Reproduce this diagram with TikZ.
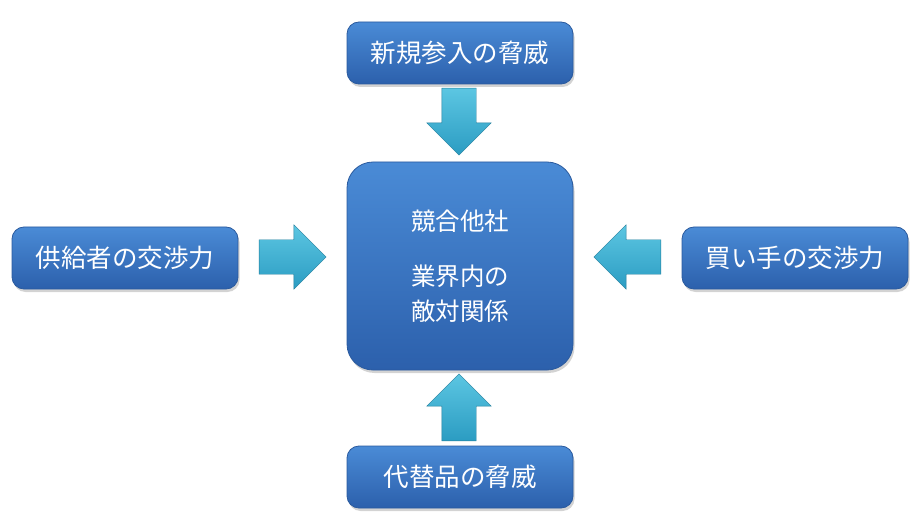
\documentclass[tikz,border=0pt]{standalone}
\usepackage{fontspec}
\setmainfont{Noto Sans CJK JP}
\usetikzlibrary{shapes.arrows, shadows}
\definecolor{boxtop}{HTML}{4A8BD6}
\definecolor{boxbot}{HTML}{2C60AC}
\definecolor{boxline}{HTML}{2A5A9E}
\definecolor{arrtop}{HTML}{5CC6E2}
\definecolor{arrbot}{HTML}{2B9CC2}
\tikzstyle{forcebox} = [draw=boxline,line width=0.8pt,rounded corners=12pt,top color=boxtop,bottom color=boxbot,text=white,font=\fontsize{25.5pt}{35pt}\selectfont,minimum width=226pt,minimum height=62pt,inner sep=0pt,drop shadow={opacity=0.35,shadow xshift=1.5pt,shadow yshift=-3pt}]
\tikzstyle{blockarrow} = [single arrow,draw=arrbot!80!black,line width=0.4pt,inner sep=17pt,minimum height=67pt,single arrow head extend=15pt,top color=arrtop,bottom color=arrbot,shading angle=0]

\begin{document}
\begin{tikzpicture}[x=1pt,y=-1pt]
		\useasboundingbox (0,0) rectangle (922,532);

		\node[forcebox,rounded corners=26pt,minimum height=208pt,align=center,font=\fontsize{24.5pt}{35pt}\selectfont] (rivals) at (460,266) {競合他社\\[20pt]業界内の\\敵対関係};
		\node[forcebox] (entrants) at (460,53) {新規参入の脅威};
		\node[forcebox] (suppliers) at (125,258) {供給者の交渉力};
		\node[forcebox] (buyers) at (795,258) {買い手の交渉力};
		\node[forcebox] (substitutes) at (460,477) {代替品の脅威};

		\node[blockarrow,shape border rotate=270] (adown) at (459,113) {};
		\node[blockarrow,shape border rotate=0] (aright) at (284,257) {};
		\node[blockarrow,shape border rotate=180] (aleft) at (636,257) {};
		\node[blockarrow,shape border rotate=90] (aup) at (459,416) {};
	\end{tikzpicture}
\end{document}
